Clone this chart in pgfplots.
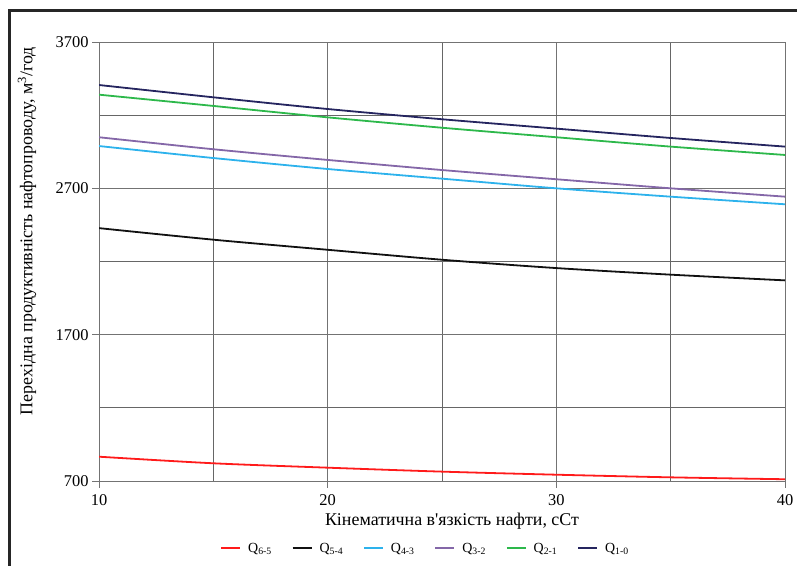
\documentclass[border=0pt]{standalone}
\usepackage{fontspec}
\setmainfont{Liberation Serif}
\usepackage{pgfplots}
\pgfplotsset{compat=1.18}
\definecolor{cred}{HTML}{FF1A1A}
\definecolor{cblack}{HTML}{111111}
\definecolor{cblue}{HTML}{2DB2EC}
\definecolor{cpurple}{HTML}{8467A8}
\definecolor{cgreen}{HTML}{2DB84B}
\definecolor{cnavy}{HTML}{25255F}
\begin{document}
\begin{tikzpicture}[x=1bp,y=1bp]
\path[use as bounding box] (0,0) rectangle (797,566);
\begin{axis}[at={(99bp,85bp)}, anchor=south west, scale only axis,
  width=686bp, height=439bp,
  xmin=10, xmax=40, ymin=700, ymax=3700,
  xtick={10,20,30,40}, minor xtick={15,25,35},
  ytick={700,1700,2700,3700}, minor ytick={1200,2200,3200},
  grid=both,
  major grid style={draw=black!55, line width=0.9bp},
  minor grid style={draw=black!60, line width=0.9bp},
  axis line style={draw=black!55, line width=0.9bp},
  tick style={draw=black!55, line width=0.9bp},
  tick pos=left,
  tick align=outside, major tick length=7bp, minor tick length=0pt,
  ticklabel style={font=\fontsize{16.5}{18}\selectfont},
  xticklabel style={yshift=-3bp},
  /pgf/number format/assume math mode=true,
  /pgf/number format/1000 sep={},
  legend columns=6,
  legend style={at={(0.476,-0.153)}, anchor=center, draw=none, fill=none,
    font=\fontsize{14}{16}\selectfont,
    /tikz/every odd column/.append style={column sep=5bp},
    /tikz/every even column/.append style={column sep=18bp}},
  legend image code/.code={\draw[#1] (0bp,0bp) -- (19bp,0bp);},
  every axis plot/.append style={line width=1.8bp, smooth}
]
\addplot[cred] coordinates {(10,866) (15,821) (20,791) (25,764) (30,743) (35,725) (40,712)};
\addlegendentry{Q\textsubscript{6-5}}
\addplot[cblack] coordinates {(10,2428) (15,2349) (20,2280) (25,2212) (30,2155) (35,2110) (40,2071)};
\addlegendentry{Q\textsubscript{5-4}}
\addplot[cblue] coordinates {(10,2989) (15,2907) (20,2832) (25,2766) (30,2700) (35,2643) (40,2591)};
\addlegendentry{Q\textsubscript{4-3}}
\addplot[cpurple] coordinates {(10,3049) (15,2967) (20,2894) (25,2825) (30,2762) (35,2700) (40,2643)};
\addlegendentry{Q\textsubscript{3-2}}
\addplot[cgreen] coordinates {(10,3340) (15,3263) (20,3185) (25,3114) (30,3049) (35,2985) (40,2928)};
\addlegendentry{Q\textsubscript{2-1}}
\addplot[cnavy] coordinates {(10,3406) (15,3322) (20,3242) (25,3172) (30,3108) (35,3044) (40,2985)};
\addlegendentry{Q\textsubscript{1-0}}
\end{axis}
\node[font=\fontsize{18}{20}\selectfont] at (452,45) {Кінематична в\textquotesingle язкість нафти, сСт};
\node[font=\fontsize{18}{20}\selectfont, rotate=90] at (27,335) {Перехідна продуктивність нафтопроводу, м\textsuperscript{3}/год};
\draw[line width=3bp, black!85] (9,0) -- (9,555) -- (797,555);
\end{tikzpicture}
\end{document}
